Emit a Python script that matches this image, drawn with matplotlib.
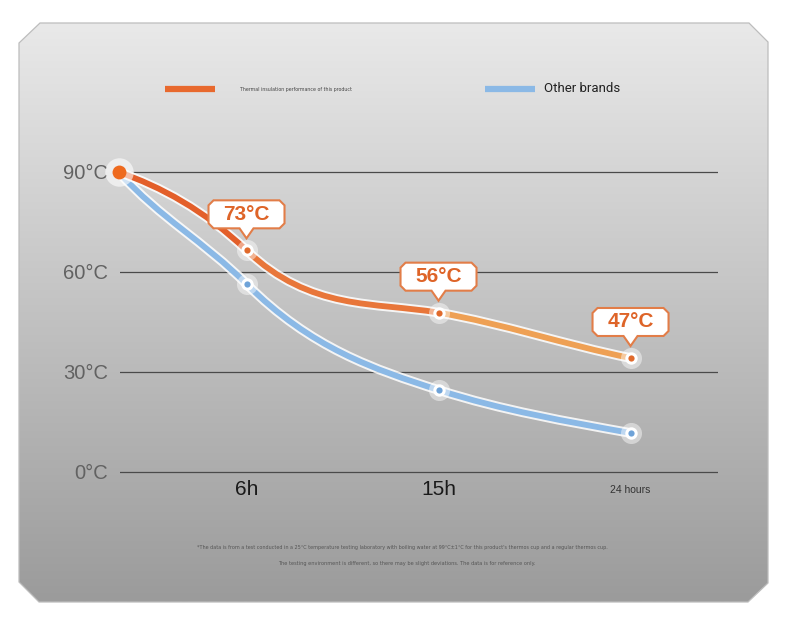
import matplotlib.pyplot as plt
import matplotlib.transforms as mtransforms
import numpy as np
from matplotlib.path import Path
from matplotlib.patches import PathPatch, Polygon
from matplotlib.colors import LinearSegmentedColormap

# data
hours = [0, 6, 15, 24]
hour_labels = ["", "6h", "15h", "24 hours"]
product_temp = [90, 66.5, 47.8, 34.2]
other_temp = [90, 56.4, 24.6, 11.7]
callout_labels = ["73°C", "56°C", "47°C"]
y_ticks = [0, 30, 60, 90]
y_tick_labels = ["0°C", "30°C", "60°C", "90°C"]
legend_labels = ["Thermal insulation performance of this product", "Other brands"]
footnotes = [
    "*The data is from a test conducted in a 25°C temperature testing laboratory with boiling water at 99°C±1°C "
    "for this product's thermos cup and a regular thermos cup.",
    "The testing environment is different, so there may be slight deviations. The data is for reference only.",
]

# curve styling: on-screen steepness of the drawn curve at each point (hand-drawn look)
product_steepness = [0.35, 0.95, 0.17, 0.2]
other_steepness = [1.1, 1.0, 0.32, 0.18]

SANS = ["Liberation Sans", "DejaVu Sans"]
ORANGE_SEGS = ["#e35f2a", "#e8763a", "#eea054"]
BLUE = "#8bb9e6"

W, H = 790, 630
fig = plt.figure(figsize=(7.9, 6.3), dpi=100)
fig.patch.set_facecolor("white")

# background panel with gradient
bg = fig.add_axes([0, 0, 1, 1])
bg.set_xlim(0, W)
bg.set_ylim(H, 0)
bg.axis("off")
panel_pts = [(40, 23), (749, 23), (768, 42), (768, 583), (748, 602),
             (39, 602), (19, 582), (19, 43)]
panel = Polygon(panel_pts, closed=True, facecolor="none", edgecolor="#bdbdbd", lw=0.9, zorder=2)
bg.add_patch(panel)
cmap = LinearSegmentedColormap.from_list("panel", ["#e9e9e9", "#9b9b9b"])
grad = np.linspace(0, 1, 256).reshape(-1, 1)
img = bg.imshow(grad, cmap=cmap, extent=(19, 768, 602, 23), aspect="auto", zorder=1)
img.set_clip_path(panel)

# legend
bg.plot([165, 215], [89, 89], color="#e8692e", lw=4.5, solid_capstyle="butt")
bg.text(240, 89, legend_labels[0], fontsize=3.4, color="#444444", va="center")
bg.plot([485, 535], [89, 89], color=BLUE, lw=4.5, solid_capstyle="butt")
bg.text(544, 89, legend_labels[1], fontsize=9.5, color="#222222", va="center", family=["Roboto", "DejaVu Sans"])

# footnotes
bg.text(402, 548, footnotes[0], fontsize=3.5, color="#555555", ha="center", va="center")
bg.text(407, 563, footnotes[1], fontsize=3.6, color="#555555", ha="center", va="center")

# main chart
ax = fig.add_axes([120 / W, (H - 475.33) / H, 598 / W, 335.33 / H])
ax.set_xlim(0.07, 28.1)
ax.set_ylim(-1, 99.6)
ax.patch.set_visible(False)
for s in ax.spines.values():
    s.set_visible(False)
ax.tick_params(length=0)
ax.set_yticks(y_ticks, y_tick_labels)
ax.tick_params(axis="y", pad=8.5, labelsize=14.5, labelcolor="#626262")
ax.yaxis.grid(True, color="#4a4a4a", lw=0.9)
ax.set_axisbelow(True)
ax.set_xticks(hours[1:], hour_labels[1:])
ax.tick_params(axis="x", pad=10.5, labelsize=15, labelcolor="#1a1a1a")
for lab in ax.get_yticklabels():
    lab.set_family(SANS)
for i, lab in enumerate(ax.get_xticklabels()):
    lab.set_family(SANS)
    lab.set_va("center")
    if i == 2:
        lab.set_fontsize(7.5)
        lab.set_color("#333333")

# pixel scale of the axes, to turn on-screen steepness into data slopes
o = ax.transData.transform((0, 0))
px_per_h = ax.transData.transform((1, 0))[0] - o[0]
px_per_deg = ax.transData.transform((0, 1))[1] - o[1]


def bezier_segments(xs, ys, steep):
    slopes = [-m * px_per_h / px_per_deg for m in steep]
    segs = []
    for i in range(len(xs) - 1):
        dx = xs[i + 1] - xs[i]
        p1 = (xs[i], ys[i])
        c1 = (xs[i] + dx / 3, ys[i] + slopes[i] * dx / 3)
        c2 = (xs[i + 1] - dx / 3, ys[i + 1] - slopes[i + 1] * dx / 3)
        p2 = (xs[i + 1], ys[i + 1])
        segs.append(Path([p1, c1, c2, p2], [Path.MOVETO, Path.CURVE4, Path.CURVE4, Path.CURVE4]))
    return segs


def draw_curve(xs, ys, steep, colors, z):
    for i, seg in enumerate(bezier_segments(xs, ys, steep)):
        ax.add_patch(PathPatch(seg, facecolor="none", edgecolor="white", lw=7.0, alpha=0.85,
                               zorder=z, clip_on=False, capstyle="round"))
        ax.add_patch(PathPatch(seg, facecolor="none", edgecolor=colors[i], lw=4.2,
                               zorder=z + 0.1, clip_on=False, capstyle="round"))


draw_curve(hours, other_temp, other_steepness, [BLUE] * 3, 3)
draw_curve(hours, product_temp, product_steepness, ORANGE_SEGS, 4)

# markers
for vals, col in [(other_temp, "#6fa3d8"), (product_temp, "#e06a2c")]:
    ax.scatter(hours[1:], vals[1:], s=230, color="white", alpha=0.45, zorder=6, clip_on=False, lw=0)
    ax.scatter(hours[1:], vals[1:], s=80, color="white", zorder=6.2, clip_on=False, lw=0)
    ax.scatter(hours[1:], vals[1:], s=20, color=col, zorder=6.4, clip_on=False, lw=0)
ax.scatter(hours[:1], product_temp[:1], s=420, color="white", alpha=0.6, zorder=6, clip_on=False, lw=0)
ax.scatter(hours[:1], product_temp[:1], s=100, color="#ee6a1e", zorder=6.4, clip_on=False, lw=0)

# callouts
box = [(-33, 22), (-7, 22), (0, 12), (7, 22), (33, 22), (38, 27), (38, 45),
       (33, 50), (-33, 50), (-38, 45), (-38, 27)]
for i, label in enumerate(callout_labels):
    x, y = hours[i + 1], product_temp[i + 1]
    t = mtransforms.Affine2D().scale(fig.dpi / 100) + mtransforms.ScaledTranslation(x, y, ax.transData)
    ax.add_patch(Polygon(box, closed=True, facecolor="white", edgecolor="#e27d48", lw=1.5,
                         transform=t, zorder=8, clip_on=False))
    ax.text(0, 36, label, transform=t, ha="center", va="center", fontsize=15, weight="bold",
            color="#de6428", family=SANS, zorder=9)

fig.savefig("out.png", dpi=100)
